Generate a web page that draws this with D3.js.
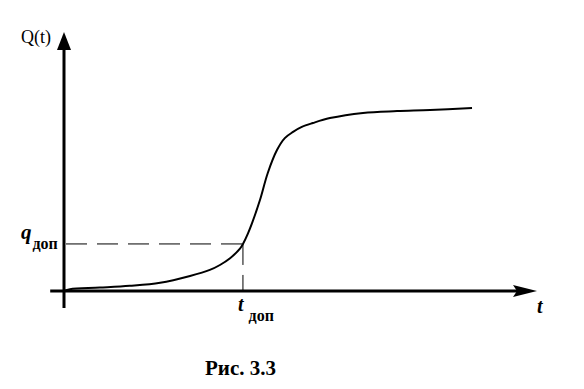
<!DOCTYPE html>
<html>
<head>
<meta charset="utf-8">
<script src="https://cdn.jsdelivr.net/npm/d3@7"></script>
<style>
  body { margin: 0; background: #fff; }
</style>
</head>
<body>
<div id="chart"></div>
<script>
// curve values (t, Q)
const tVals = [0, 0.13, 0.78, 1.43, 2.09, 2.74, 3.17, 3.39, 3.61, 3.83, 3.89, 4.0, 4.09, 4.26, 4.43, 4.63, 4.80, 4.98, 5.17, 5.41, 5.78, 6.5, 7.24, 7.96, 8.87];
const qVals = [0, 0.07, 0.13, 0.20, 0.32, 0.58, 0.81, 1.0, 1.26, 1.64, 1.81, 2.22, 2.62, 3.50, 4.54, 5.42, 5.88, 6.12, 6.31, 6.46, 6.65, 6.85, 6.92, 6.96, 7.04];
const tDop = 3.89;
const qDop = 1.81;

const width = 584;
const height = 389;
const serif = 'Liberation Serif';

const svg = d3.select('#chart').append('svg')
  .attr('width', width)
  .attr('height', height);

const x = d3.scaleLinear().domain([0, 10]).range([64, 524]);
const y = d3.scaleLinear().domain([0, 10]).range([291, 31]);

// AXES
svg.append('line')
  .attr('x1', x(-0.3)).attr('x2', x(9.95))
  .attr('y1', y(0)).attr('y2', y(0))
  .attr('stroke', '#000').attr('stroke-width', 3);
svg.append('line')
  .attr('x1', x(0)).attr('x2', x(0))
  .attr('y1', y(-0.65)).attr('y2', y(9.5))
  .attr('stroke', '#000').attr('stroke-width', 3);

// arrowheads
svg.append('path')
  .attr('d', `M${x(0)},${y(0) - 259} L${x(0) + 7},${y(0) - 241} L${x(0) - 7},${y(0) - 241} Z`)
  .attr('fill', '#000');
svg.append('path')
  .attr('d', `M${x(0) + 473},${y(0)} L${x(0) + 449},${y(0) - 6} L${x(0) + 453},${y(0)} L${x(0) + 449},${y(0) + 6} Z`)
  .attr('fill', '#000');

// DASHED GUIDES
svg.append('line')
  .attr('x1', x(0) + 2).attr('x2', x(tDop))
  .attr('y1', y(qDop)).attr('y2', y(qDop))
  .attr('stroke', '#000').attr('stroke-width', 1)
  .attr('stroke-dasharray', '21,10');
svg.append('line')
  .attr('x1', x(tDop)).attr('x2', x(tDop))
  .attr('y1', y(qDop)).attr('y2', y(0))
  .attr('stroke', '#000').attr('stroke-width', 1)
  .attr('stroke-dasharray', '21,10');

// CURVE
const pts = tVals.map((t, i) => [t, qVals[i]]);
const line = d3.line()
  .x(d => x(d[0]))
  .y(d => y(d[1]))
  .curve(d3.curveCatmullRom.alpha(0.5));
svg.append('path')
  .datum(pts)
  .attr('d', line)
  .attr('fill', 'none')
  .attr('stroke', '#000')
  .attr('stroke-width', 2);

// LABELS
svg.append('text')
  .attr('x', 21).attr('y', 43)
  .attr('font-family', serif)
  .attr('font-size', 18)
  .text('Q(t)');

const qLab = svg.append('text').attr('x', 21).attr('y', 239).attr('font-family', serif);
qLab.append('tspan')
  .attr('font-size', 21).attr('font-weight', 'bold').attr('font-style', 'italic')
  .text('q');
qLab.append('tspan')
  .attr('dx', 1).attr('dy', 10)
  .attr('font-size', 16).attr('font-weight', 'bold')
  .text('доп');

const tLab = svg.append('text').attr('x', 238).attr('y', 311).attr('font-family', serif);
tLab.append('tspan')
  .attr('font-size', 20).attr('font-weight', 'bold').attr('font-style', 'italic')
  .text('t');
tLab.append('tspan')
  .attr('dx', 5).attr('dy', 10)
  .attr('font-size', 16).attr('font-weight', 'bold')
  .text('доп');

svg.append('text')
  .attr('x', 537).attr('y', 313)
  .attr('font-family', serif)
  .attr('font-size', 20).attr('font-weight', 'bold').attr('font-style', 'italic')
  .text('t');

svg.append('text')
  .attr('x', 205).attr('y', 375)
  .attr('font-family', serif)
  .attr('font-size', 21).attr('font-weight', 'bold')
  .text('Рис. 3.3');
</script>
</body>
</html>
